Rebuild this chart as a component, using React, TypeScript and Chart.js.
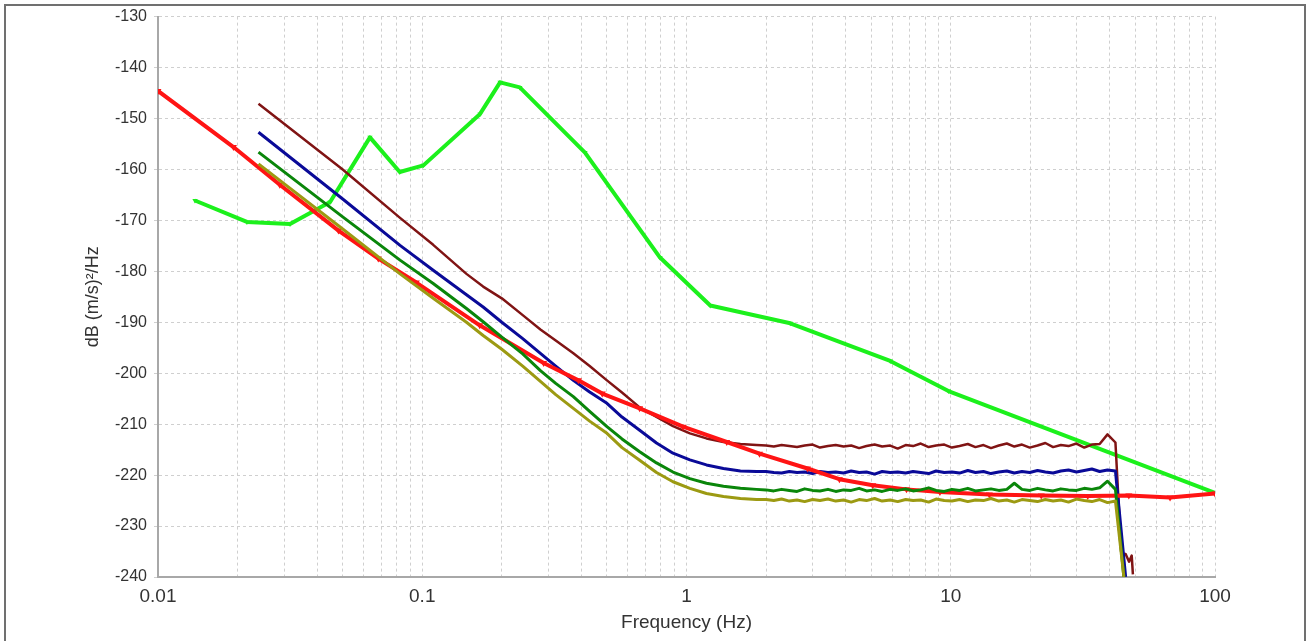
import React, { useEffect, useRef } from "react";
import { Chart, registerables } from "chart.js";

Chart.register(...registerables);

const FONT = "'Liberation Sans', Arial, Helvetica, sans-serif";

// Shared frequency grid (Hz) of the four measured PSD traces
const darkFreq = [
  0.024, 0.05, 0.0824, 0.11, 0.147, 0.17, 0.2, 0.24, 0.28, 0.32, 0.373, 0.43, 0.5, 0.57, 0.665, 0.77, 0.889,
  1.03, 1.19, 1.38, 1.6, 1.84,
  2.0, 2.14, 2.29, 2.45, 2.62, 2.8, 3.0, 3.2, 3.43, 3.67, 3.93, 4.2, 4.5, 4.8, 5.15, 5.5, 5.9, 6.3, 6.75, 7.2,
  7.7, 8.25, 8.8, 9.45, 10.1, 10.8, 11.6, 12.4, 13.3, 14.2, 15.2, 16.3, 17.4, 18.6, 19.9, 21.3, 22.8, 24.4,
  26.1, 27.9, 29.9, 32.0, 34.2, 36.6, 39.2, 42.0,
  44.2, 45.2, 45.9, 47.3, 48.4, 48.9,
];

const brownDb = [
  -147.1, -160.0, -169.5, -174.8, -180.5, -183.0, -185.3, -188.6, -191.4, -193.6, -196.1, -198.6, -201.4, -203.8,
  -206.7, -208.6, -210.4, -211.8, -212.8, -213.5, -213.9, -214.1,
  -214.2, -214.4, -214.1, -214.3, -214.5, -214.2, -214.0, -214.6, -214.3, -214.1, -214.4, -214.2, -214.7, -214.3,
  -214.0, -214.4, -214.2, -214.8, -214.1, -214.3, -213.8, -214.5, -214.2, -214.0, -214.6, -214.3, -213.9, -214.5,
  -214.1, -214.7, -214.2, -213.8, -214.4, -214.0, -214.6, -214.2, -213.7, -214.5, -214.1, -214.3, -213.8, -214.6,
  -214.0, -213.9, -212.0, -213.6,
  -235.4, null, -235.5, -237.0, -235.8, -239.5,
];

const blueDb = [
  -152.7, -165.8, -174.9, -179.8, -184.6, -187.0, -190.0, -193.2, -196.1, -198.6, -201.4, -203.7, -205.9, -208.6,
  -211.2, -213.7, -215.7, -217.0, -218.0, -218.7, -219.2, -219.3,
  -219.3, -219.5, -219.6, -219.3, -219.5, -219.4, -219.7, -219.3, -219.5, -219.4, -219.6, -219.2, -219.5, -219.4,
  -219.8, -219.3, -219.5, -219.4, -219.6, -219.3, -219.5, -219.7, -219.2, -219.5, -219.4, -219.6, -219.1, -219.5,
  -219.3, -219.7, -219.4, -219.2, -219.6, -219.3, -219.5, -219.1, -219.4, -219.6, -219.2, -219.0, -219.4, -219.1,
  -218.8, -219.3, -219.0, -219.2,
  null, null, -240, null, null, null,
];

const greenDb = [
  -156.6, -169.3, -177.8, -182.4, -187.3, -189.9, -192.9, -196.2, -199.5, -202.0, -204.6, -207.5, -210.5, -212.9,
  -215.4, -217.6, -219.4, -220.7, -221.6, -222.2, -222.6, -222.8,
  -222.9, -223.1, -222.8, -223.0, -223.2, -222.7, -223.0, -223.1, -222.8, -223.2, -222.9, -223.0, -222.6, -223.1,
  -222.9, -223.2, -222.8, -223.0, -222.7, -223.1, -222.9, -222.5, -223.0, -223.2, -222.8, -223.0, -222.6, -223.1,
  -222.9, -222.7, -223.0, -222.8, -221.6, -222.8, -223.0, -222.6, -222.9, -223.1, -222.7, -222.9, -223.0, -222.6,
  -222.8, -222.5, -221.2, -222.8,
  null, -240, null, null, null, null,
];

const oliveDb = [
  -158.9, -171.7, -180.5, -185.3, -190.0, -192.6, -195.3, -198.6, -201.6, -204.2, -206.9, -209.4, -211.8, -214.6,
  -217.1, -219.5, -221.3, -222.6, -223.6, -224.2, -224.6, -224.8,
  -224.8, -225.0, -224.7, -225.1, -224.9, -225.2, -224.8, -225.0, -224.7, -225.1, -224.9, -225.3, -224.8, -225.0,
  -224.6, -225.1, -224.9, -225.2, -224.8, -225.0, -224.9, -225.3, -224.7, -225.0, -225.1, -224.8, -225.2, -224.9,
  -225.0, -224.6, -225.1, -224.9, -225.3, -224.8, -225.0, -225.2, -224.8, -225.1, -224.9, -225.3, -224.7, -225.0,
  -225.2, -224.8, -225.4, -225.1,
  null, -240, null, null, null, null,
];

// Red model curve (with markers)
const redFreq = [
  0.01, 0.0193, 0.0289, 0.0482, 0.0682, 0.095, 0.165, 0.288, 0.39, 0.48, 0.665, 0.97, 1.42, 1.89, 2.87, 3.79,
  5.07, 6.8, 9.1, 14, 22, 33, 47.2, 67.6, 100,
];
const redDb = [
  -144.6, -155.6, -163.0, -172.0, -177.5, -182.2, -190.6, -198.0, -201.4, -204.0, -206.9, -210.5, -213.5, -215.8,
  -218.7, -220.8, -222.0, -222.8, -223.3, -223.8, -224.0, -224.1, -224.0, -224.4, -223.6,
];

// Bright green reference curve
const limeFreq = [0.0138, 0.0217, 0.0316, 0.0448, 0.0634, 0.0822, 0.101, 0.1655, 0.197, 0.234, 0.413, 0.794, 1.23, 2.47, 5.9, 9.8, 100];
const limeDb = [-166.1, -170.3, -170.7, -166.4, -153.7, -160.5, -159.2, -149.1, -142.9, -143.9, -156.7, -177.3, -186.7, -190.2, -197.6, -203.5, -223.5];

// Axis ticks
const xTickValues = [
  0.01, 0.02, 0.03, 0.04, 0.05, 0.06, 0.07, 0.08, 0.09,
  0.1, 0.2, 0.3, 0.4, 0.5, 0.6, 0.7, 0.8, 0.9,
  1, 2, 3, 4, 5, 6, 7, 8, 9,
  10, 20, 30, 40, 50, 60, 70, 80, 90,
  100,
];
const xTickLabels = ["0.01", "0.1", "1", "10", "100"];
const yTickValues = [-240, -230, -220, -210, -200, -190, -180, -170, -160, -150, -140, -130];

const toPoints = (xs: number[], ys: (number | null)[]) => xs.map((x, i) => ({ x, y: ys[i] }));

export default function App() {
  const canvasRef = useRef<HTMLCanvasElement | null>(null);

  useEffect(() => {
    const canvas = canvasRef.current;
    if (!canvas) return;

    const dark = (label: string, ys: (number | null)[], color: string, width: number, order: number) => ({
      label,
      data: toPoints(darkFreq, ys),
      borderColor: color,
      backgroundColor: color,
      borderWidth: width,
      showLine: true,
      spanGaps: true,
      pointRadius: 0,
      pointHoverRadius: 0,
      order,
    });

    const chart = new Chart(canvas, {
      type: "scatter",
      data: {
        datasets: [
          dark("olive", oliveDb, "#9c9a12", 3, 0),
          dark("green", greenDb, "#0a860a", 3, 1),
          {
            label: "red",
            data: toPoints(redFreq, redDb),
            borderColor: "#ff1414",
            backgroundColor: "#ff1414",
            borderWidth: 4,
            showLine: true,
            pointRadius: 4,
            pointStyle: "triangle",
            rotation: 180,
            pointBorderWidth: 0,
            order: 2,
          } as any,
          dark("blue", blueDb, "#0a0a98", 3, 3),
          dark("brown", brownDb, "#801414", 2.5, 4),
          {
            label: "lime",
            data: toPoints(limeFreq, limeDb),
            borderColor: "#1cf01c",
            backgroundColor: "#1cf01c",
            borderWidth: 4,
            showLine: true,
            pointRadius: 3,
            pointStyle: "triangle",
            rotation: 180,
            pointBorderWidth: 0,
            order: 5,
          } as any,
        ],
      },
      options: {
        responsive: false,
        animation: false,
        events: [],
        layout: { padding: { left: 0, top: 16, right: 97, bottom: 0 } },
        plugins: { legend: { display: false }, tooltip: { enabled: false } },
        elements: { line: { tension: 0, borderJoinStyle: "round" } },
        scales: {
          x: {
            type: "logarithmic",
            position: "bottom",
            min: 0.01,
            max: 100,
            afterBuildTicks: (s: any) => {
              s.ticks = xTickValues.map((v) => ({ value: v }));
            },
            afterFit: (s: any) => {
              s.height = 64;
            },
            ticks: {
              autoSkip: false,
              maxRotation: 0,
              minRotation: 0,
              padding: 8,
              color: "#333",
              font: { family: FONT, size: 19 },
              callback: (v: any) => (xTickLabels.includes(String(v)) ? String(v) : ""),
            },
            grid: { color: "#cfcfcf", lineWidth: 1, drawTicks: false },
            border: { color: "#a8a8a8", width: 2, dash: [3, 3] },
            title: {
              display: true,
              text: "Frequency (Hz)",
              color: "#333",
              font: { family: FONT, size: 19 },
              padding: { top: 0, bottom: 7 },
            },
          } as any,
          y: {
            type: "linear",
            min: -240,
            max: -130,
            afterBuildTicks: (s: any) => {
              s.ticks = yTickValues.map((v) => ({ value: v }));
            },
            afterFit: (s: any) => {
              s.width = 158;
            },
            ticks: {
              padding: 7,
              color: "#333",
              font: { family: FONT, size: 16 },
              callback: (v: any) => String(v),
            },
            grid: { color: "#cfcfcf", lineWidth: 1, tickLength: 4 },
            border: { color: "#a8a8a8", width: 2, dash: [3, 3] },
            title: {
              display: true,
              text: "dB (m/s)²/Hz",
              color: "#333",
              font: { family: FONT, size: 18 },
              padding: { top: 82, bottom: 0 },
            },
          } as any,
        },
      },
    });

    return () => chart.destroy();
  }, []);

  return (
    <div
      style={{
        position: "fixed",
        left: 0,
        top: 0,
        width: 1312,
        height: 641,
        overflow: "hidden",
        background: "#ffffff",
      }}
    >
      <div
        style={{
          position: "absolute",
          left: 4,
          top: 4,
          width: 1298,
          height: 700,
          border: "2px solid #707070",
        }}
      />
      <canvas
        ref={canvasRef}
        width={1312}
        height={641}
        style={{ position: "absolute", left: 0, top: 0, width: 1312, height: 641 }}
      />
    </div>
  );
}
